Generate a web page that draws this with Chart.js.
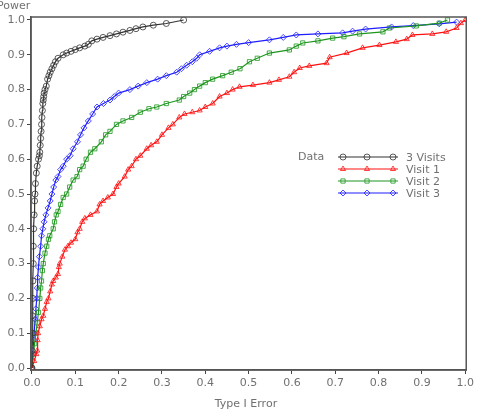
<!DOCTYPE html>
<html lang="en">
<head>
  <meta charset="UTF-8">
  <title>Power vs Type I Error</title>
  <script src="https://cdn.jsdelivr.net/npm/chart.js@4"></script>
  <style>
    html, body { margin: 0; padding: 0; background: #fff; }
    #wrap { width: 477px; height: 412px; position: relative; }
  </style>
</head>
<body>
  <div id="wrap"><canvas id="rocChart"></canvas></div>

  <script>
    // values as [type I error, power]
    const threeVisits = [[0,0],[0,0.05],[0.001,0.1],[0.001,0.15],[0.002,0.2],[0.002,0.25],[0.003,0.3],[0.003,0.35],[0.004,0.4],[0.005,0.44],[0.006,0.48],[0.007,0.5],[0.008,0.53],[0.01,0.56],[0.012,0.58],[0.015,0.6],[0.017,0.61],[0.018,0.62],[0.019,0.64],[0.02,0.66],[0.021,0.68],[0.022,0.7],[0.023,0.72],[0.024,0.74],[0.025,0.76],[0.026,0.77],[0.027,0.78],[0.028,0.79],[0.03,0.8],[0.033,0.81],[0.036,0.83],[0.039,0.84],[0.042,0.85],[0.046,0.86],[0.05,0.87],[0.054,0.88],[0.06,0.89],[0.072,0.9],[0.08,0.905],[0.09,0.91],[0.1,0.915],[0.11,0.92],[0.122,0.925],[0.13,0.93],[0.138,0.94],[0.15,0.945],[0.164,0.95],[0.18,0.955],[0.195,0.96],[0.21,0.965],[0.226,0.97],[0.24,0.975],[0.256,0.98],[0.28,0.985],[0.31,0.99],[0.35,1.0]];
    const visit1 = [[0,0],[0.005,0.02],[0.01,0.04],[0.012,0.05],[0.013,0.08],[0.014,0.1],[0.018,0.12],[0.022,0.14],[0.026,0.15],[0.03,0.17],[0.034,0.19],[0.038,0.2],[0.042,0.22],[0.046,0.24],[0.049,0.25],[0.055,0.26],[0.06,0.27],[0.062,0.29],[0.064,0.3],[0.07,0.32],[0.076,0.34],[0.083,0.35],[0.09,0.36],[0.1,0.37],[0.105,0.39],[0.11,0.4],[0.116,0.42],[0.122,0.43],[0.135,0.44],[0.15,0.45],[0.156,0.47],[0.164,0.48],[0.175,0.49],[0.187,0.5],[0.195,0.52],[0.2,0.53],[0.214,0.55],[0.222,0.57],[0.23,0.58],[0.24,0.6],[0.25,0.61],[0.265,0.63],[0.275,0.64],[0.288,0.65],[0.3,0.67],[0.315,0.69],[0.325,0.7],[0.34,0.72],[0.352,0.73],[0.37,0.735],[0.387,0.74],[0.4,0.75],[0.417,0.76],[0.433,0.78],[0.45,0.79],[0.463,0.8],[0.479,0.808],[0.51,0.813],[0.548,0.82],[0.57,0.828],[0.594,0.837],[0.605,0.85],[0.618,0.862],[0.64,0.868],[0.68,0.876],[0.687,0.893],[0.726,0.905],[0.763,0.92],[0.802,0.928],[0.84,0.937],[0.865,0.945],[0.878,0.957],[0.924,0.96],[0.956,0.966],[0.98,0.977],[0.99,0.991],[1.0,1.0]];
    const visit2 = [[0,0],[0.003,0.04],[0.006,0.07],[0.009,0.1],[0.012,0.13],[0.015,0.16],[0.018,0.2],[0.02,0.23],[0.022,0.25],[0.024,0.28],[0.026,0.3],[0.03,0.33],[0.034,0.35],[0.038,0.37],[0.041,0.38],[0.049,0.4],[0.052,0.42],[0.056,0.44],[0.06,0.45],[0.066,0.47],[0.072,0.49],[0.08,0.5],[0.087,0.52],[0.095,0.54],[0.104,0.55],[0.11,0.57],[0.118,0.58],[0.125,0.6],[0.135,0.62],[0.145,0.63],[0.16,0.65],[0.17,0.67],[0.18,0.68],[0.195,0.7],[0.21,0.71],[0.23,0.72],[0.25,0.735],[0.27,0.745],[0.288,0.75],[0.31,0.76],[0.34,0.77],[0.35,0.78],[0.364,0.79],[0.375,0.8],[0.387,0.81],[0.4,0.82],[0.417,0.83],[0.44,0.84],[0.46,0.85],[0.48,0.86],[0.502,0.88],[0.52,0.89],[0.548,0.905],[0.594,0.914],[0.61,0.925],[0.625,0.934],[0.66,0.94],[0.694,0.948],[0.72,0.952],[0.756,0.96],[0.81,0.966],[0.825,0.977],[0.887,0.983],[0.94,0.991],[0.959,1.0]];
    const visit3 = [[0,0],[0.002,0.04],[0.004,0.08],[0.005,0.1],[0.007,0.14],[0.009,0.17],[0.011,0.2],[0.012,0.23],[0.013,0.26],[0.015,0.29],[0.017,0.32],[0.02,0.35],[0.022,0.38],[0.025,0.4],[0.028,0.42],[0.032,0.44],[0.037,0.46],[0.042,0.48],[0.046,0.5],[0.05,0.52],[0.055,0.54],[0.06,0.55],[0.066,0.57],[0.072,0.58],[0.08,0.6],[0.088,0.61],[0.095,0.63],[0.105,0.65],[0.112,0.67],[0.12,0.69],[0.13,0.71],[0.14,0.73],[0.15,0.75],[0.165,0.76],[0.18,0.77],[0.19,0.78],[0.2,0.79],[0.226,0.8],[0.245,0.81],[0.265,0.82],[0.29,0.83],[0.31,0.84],[0.334,0.85],[0.345,0.86],[0.357,0.87],[0.37,0.88],[0.38,0.89],[0.387,0.9],[0.41,0.91],[0.433,0.92],[0.45,0.925],[0.472,0.93],[0.5,0.935],[0.548,0.943],[0.58,0.95],[0.61,0.957],[0.66,0.96],[0.717,0.963],[0.74,0.968],[0.77,0.974],[0.83,0.98],[0.88,0.984],[0.94,0.989],[0.98,0.994]];

    const seriesNames = ['3 Visits', 'Visit 1', 'Visit 2', 'Visit 3'];
    const xTicks = [0, 0.1, 0.2, 0.3, 0.4, 0.5, 0.6, 0.7, 0.8, 0.9, 1.0];
    const yTicks = [0, 0.1, 0.2, 0.3, 0.4, 0.5, 0.6, 0.7, 0.8, 0.9, 1.0];

    const colors = ['#333333', '#ff1010', '#1e961e', '#1f1fff'];
    const markers = ['circle', 'triangle', 'rect', 'rectRot'];
    const FONT = '"DejaVu Sans", sans-serif';
    const textColor = '#707070';

    function toPoints(arr) {
      return arr.map(p => ({ x: p[0], y: p[1] }));
    }

    // frame, axis titles and the "Data" legend block
    const extras = {
      id: 'extras',
      afterDraw(chart) {
        const ctx = chart.ctx;
        const a = chart.chartArea;
        ctx.save();
        ctx.strokeStyle = '#555';
        ctx.lineWidth = 1.5;
        ctx.strokeRect(a.left, a.top, a.right - a.left, a.bottom - a.top);

        ctx.fillStyle = textColor;
        ctx.font = '11px ' + FONT;
        ctx.textBaseline = 'middle';
        ctx.textAlign = 'left';
        ctx.fillText('Power', -3, 6);
        ctx.textAlign = 'center';
        ctx.fillText('Type I Error', 246, 404);

        // legend
        ctx.textAlign = 'left';
        ctx.fillText('Data', 298, 157);
        const rows = [157, 169, 181, 193];
        chart.data.datasets.forEach((ds, i) => {
          const y = rows[i];
          ctx.strokeStyle = ds.borderColor;
          ctx.lineWidth = 1.2;
          ctx.beginPath();
          ctx.moveTo(338, y);
          ctx.lineTo(398, y);
          ctx.stroke();
          ctx.fillStyle = 'rgba(0,0,0,0)';
          ctx.lineWidth = 0.8;
          [343, 367, 393].forEach(x => {
            Chart.helpers.drawPoint(ctx, {
              pointStyle: ds.pointStyle, radius: 3, rotation: 0, borderWidth: 0.8
            }, x, y);
          });
          ctx.fillStyle = textColor;
          ctx.fillText(ds.label, 406, y + 1);
        });
        ctx.restore();
      }
    };

    const ctx = document.getElementById('rocChart').getContext('2d');
    const allSeries = [threeVisits, visit1, visit2, visit3];

    new Chart(ctx, {
      type: 'line',
      data: {
        datasets: allSeries.map((s, i) => ({
          label: seriesNames[i],
          data: toPoints(s),
          borderColor: colors[i],
          backgroundColor: 'rgba(0,0,0,0)',
          pointBorderColor: colors[i],
          pointBackgroundColor: 'rgba(0,0,0,0)',
          pointStyle: markers[i],
          pointRadius: 3,
          pointBorderWidth: 0.8,
          borderWidth: 1.2,
          tension: 0,
          fill: false
        }))
      },
      options: {
        responsive: true,
        maintainAspectRatio: false,
        animation: false,
        layout: { padding: { left: 0, top: 17, right: 10, bottom: 0 } },
        plugins: {
          legend: { display: false },
          tooltip: { enabled: false }
        },
        scales: {
          x: {
            type: 'linear',
            min: -0.0023,
            max: 1.0023,
            afterBuildTicks: s => { s.ticks = xTicks.map(v => ({ value: v })); },
            afterFit: s => { s.height = 42; },
            grid: { drawOnChartArea: false, drawTicks: true, tickLength: 4, color: '#444' },
            border: { display: true, color: '#555', width: 1.5 },
            ticks: {
              color: textColor,
              font: { family: FONT, size: 11 },
              padding: 3,
              maxRotation: 0,
              autoSkip: false,
              callback: v => v.toFixed(1)
            }
          },
          y: {
            type: 'linear',
            min: -0.0057,
            max: 1.0086,
            afterBuildTicks: s => { s.ticks = yTicks.map(v => ({ value: v })); },
            afterFit: s => { s.width = 31; },
            grid: { drawOnChartArea: false, drawTicks: true, tickLength: 4, color: '#444' },
            border: { display: true, color: '#555', width: 1.5 },
            ticks: {
              color: textColor,
              font: { family: FONT, size: 11 },
              padding: 2,
              autoSkip: false,
              callback: v => v.toFixed(1)
            }
          }
        }
      },
      plugins: [extras]
    });
  </script>
</body>
</html>
